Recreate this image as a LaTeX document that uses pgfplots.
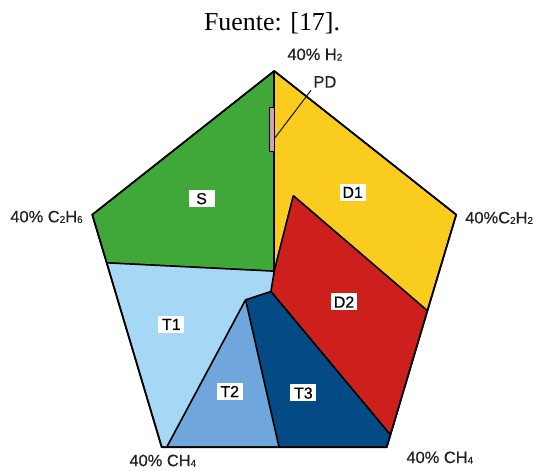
\documentclass[border=0pt]{standalone}
\usepackage{pgfplots}
\pgfplotsset{compat=1.18}
\usepackage{fontspec}
\setmainfont{Liberation Serif}
\newfontfamily\lsans[FakeBold=0.5]{Liberation Sans}

% zone colours of the Duval pentagon
\definecolor{zoneS}{RGB}{64,168,56}
\definecolor{zoneD1}{RGB}{250,204,30}
\definecolor{zoneD2}{RGB}{205,32,28}
\definecolor{zoneT1}{RGB}{166,216,245}
\definecolor{zoneT2}{RGB}{111,166,220}
\definecolor{zoneT3}{RGB}{4,74,133}
\definecolor{zonePD}{RGB}{214,160,172}
\definecolor{labelgray}{RGB}{34,34,34}

\newcommand\sub[1]{\raisebox{-0.6bp}{\fontsize{10}{10}\selectfont #1}}

\tikzset{
  zone/.style={inner xsep=2.4bp, inner ysep=2.8bp, minimum width=26bp, fill=white, text=black,
    font=\lsans\fontsize{16}{16}\selectfont, text height=11.5bp, text depth=0bp},
  vlabel/.style={inner sep=0pt, text=labelgray, font=\lsans\fontsize{16.5}{17}\selectfont},
}

\begin{document}
\begin{tikzpicture}
\begin{axis}[
  name=ax,
  x=4.784bp, y=5.2bp,
  xmin=-57.32, xmax=54.93,
  ymin=-36.92, ymax=53.65,
  axis lines=none,
  clip=false,
  every axis plot/.append style={line width=1.5bp, line join=round, draw=black},
]
% zones (coordinates in % of gas)
\addplot[fill=zoneS] coordinates {(0,1.5) (-35,3.1) (-38.04,12.36) (0,40) (0,1.5)};
\addplot[fill=zoneD1] coordinates {(0,40) (38.04,12.36) (32,-6.1) (4,16) (0,1.5) (0,40)};
\addplot[fill=zoneD2] coordinates {(4,16) (32,-6.1) (24.3,-30) (-0.7,-2.4) (0,1.5) (4,16)};
\addplot[fill=zoneT3] coordinates {(-0.7,-2.4) (24.3,-30) (23.51,-32.36) (1,-32.36) (-6,-4) (-0.7,-2.4)};
\addplot[fill=zoneT2] coordinates {(-6,-4) (1,-32.36) (-22.5,-32.36) (-6,-4)};
\addplot[fill=zoneT1] coordinates {(-6,-4) (-22.5,-32.36) (-23.51,-32.36) (-35,3.1) (0,1.5) (-0.7,-2.4) (-6,-4)};
\addplot[fill=zonePD, line width=1bp] coordinates {(0,33) (-1,33) (-1,24.5) (0,24.5) (0,33)};
% outer pentagon
\addplot[line width=1.7bp] coordinates {(0,40) (38.04,12.36) (23.51,-32.36) (-23.51,-32.36) (-38.04,12.36) (0,40)};
% PD leader
\addplot[line width=1.1bp, draw=labelgray] coordinates {(0.2,27.2) (7.7,36.3)};

% zone names
\node[zone] at (axis cs:-15.2,15.5) {S};
\node[zone] at (axis cs:16.4,16.7) {D1};
\node[zone] at (axis cs:14.6,-4.4) {D2};
\node[zone] at (axis cs:-21.5,-8.7) {T1};
\node[zone] at (axis cs:-9.3,-21.6) {T2};
\node[zone] at (axis cs:6.1,-21.9) {T3};
\node[vlabel] at (axis cs:10.6,37.9) {PD};

% vertex labels
\node[vlabel, anchor=base] at (axis cs:8.5,42.1) {40\% H\sub{2}};
\node[vlabel, anchor=base east] at (axis cs:-40.0,10.9) {40\% C\sub{2}H\sub{6}};
\node[vlabel, anchor=base west] at (axis cs:39.9,10.7) {40\%C\sub{2}H\sub{2}};
\node[vlabel, anchor=base west] at (axis cs:27.6,-35.4) {40\% CH\sub{4}};
\node[vlabel, anchor=base west] at (axis cs:-30.3,-36.0) {40\% CH\sub{4}};

% source line
\node[anchor=base, inner sep=0pt, font=\fontsize{26}{29}\selectfont] at (axis cs:-0.46,47.7) {Fuente: [17].};
\end{axis}
\pgfresetboundingbox
\useasboundingbox (ax.south west) rectangle (ax.north east);
\end{tikzpicture}
\end{document}
